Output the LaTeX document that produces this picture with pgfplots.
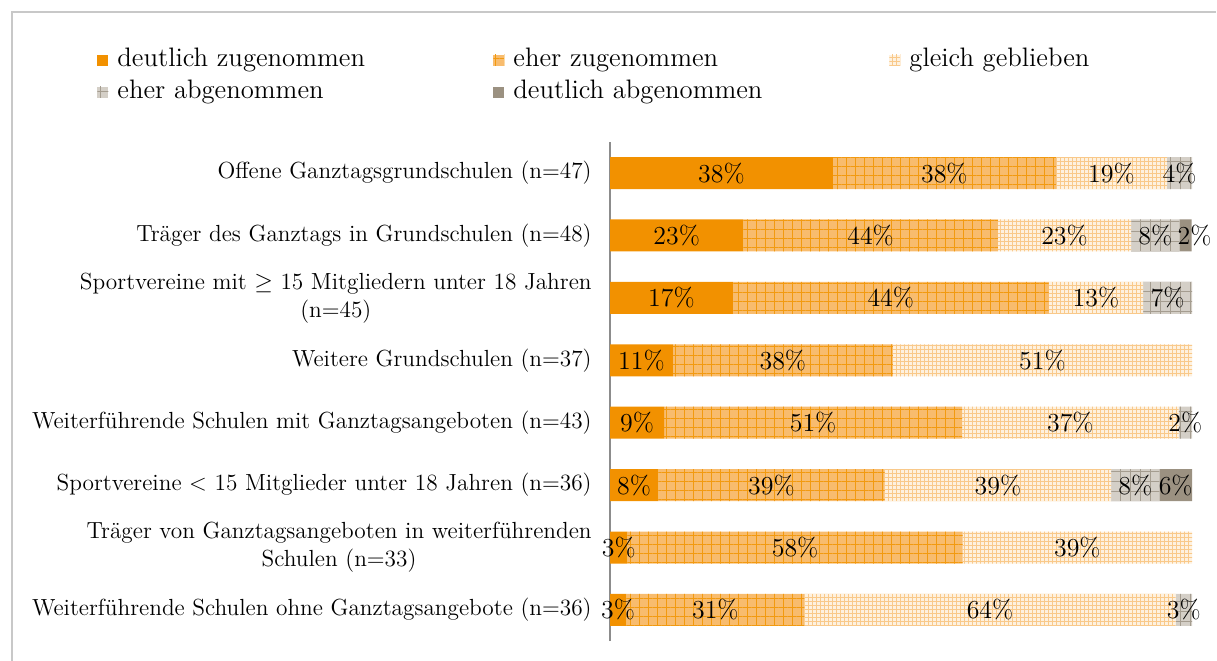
\documentclass[border=0pt]{standalone}
\usepackage{pgfplots}
\pgfplotsset{compat=1.18}
\usepackage{pgfplotstable}
\usetikzlibrary{patterns.meta}
\definecolor{cA}{HTML}{F29100}
\definecolor{cBbase}{HTML}{F8BC6E}
\definecolor{cBline}{HTML}{F29A10}
\definecolor{cCbase}{HTML}{FEF1DF}
\definecolor{cCline}{HTML}{F9C98A}
\definecolor{cDbase}{HTML}{D4CFC7}
\definecolor{cDline}{HTML}{A59D90}
\definecolor{cE}{HTML}{9B9181}
\definecolor{framegray}{HTML}{C8C8C8}
\definecolor{axisgray}{HTML}{8C8C8C}

% shares of the answers shown (per row, in %), and the printed labels
\pgfplotstableread{
y a b c d e la lb lc ld le
7 38.3 38.3 19.1 4.3 0 38\% 38\% 19\% 4\% {}
6 22.9 43.75 22.9 8.3 2.1 23\% 44\% 23\% 8\% \hspace*{9bp}2\%
5 21.1 54.3 16.2 8.4 0 17\% 44\% 13\% 7\% {}
4 10.8 37.8 51.4 0 0 11\% 38\% 51\% {} {}
3 9.3 51.2 37.2 2.3 0 9\% 51\% 37\% 2\% {}
2 8.3 38.9 38.9 8.3 5.6 8\% 39\% 39\% 8\% 6\%
1 3.0 57.6 39.4 0 0 3\% 58\% 39\% {} {}
0 2.8 30.6 63.8 2.8 0 3\% 31\% 64\% 3\% {}
}\data

\pgfplotsset{
  sA/.style={fill=cA, draw=none},
  sB/.style={fill=cBbase, draw=none, postaction={pattern={Hatch[angle=0,distance=4.5bp,line width=0.45bp]}, pattern color=cBline}},
  sC/.style={fill=cCbase, draw=none, postaction={pattern={Hatch[angle=0,distance=2bp,line width=0.35bp]}, pattern color=cCline}},
  sD/.style={fill=cDbase, draw=none, postaction={pattern={Hatch[angle=0,distance=5bp,line width=0.4bp]}, pattern color=cDline}},
  sE/.style={fill=cE, draw=none},
  lab/.style={
    forget plot,
    nodes near coords,
    point meta=explicit symbolic,
    every node near coord/.append style={anchor=center,
      font=\fontsize{13}{15}\selectfont, text=black, inner sep=0pt},
  },
}

\begin{document}
\begin{tikzpicture}
\path[use as bounding box] (0,0) rectangle (608.5bp,-330.5bp);
\draw[framegray, line width=1bp] (6bp,-331bp) -- (6bp,-6bp) -- (608bp,-6bp);
\begin{axis}[
  at={(305bp,-320.6bp)}, anchor=south west,
  scale only axis, width=291bp, height=249.7bp,
  xbar stacked, bar width=16bp,
  xmin=0, xmax=100, ymin=-0.5, ymax=7.5,
  axis x line=none,
  axis y line*=left,
  y axis line style={draw=axisgray, line width=1bp},
  ytick={0,...,7},
  major tick length=0pt,
  yticklabels={
    Weiterführende Schulen ohne Ganztagsangebote (n=36),
    {Träger von Ganztagsangeboten in weiterführenden\\Schulen (n=33)},
    Sportvereine < 15 Mitglieder unter 18 Jahren (n=36),
    Weiterführende Schulen mit Ganztagsangeboten (n=43),
    Weitere Grundschulen (n=37),
    {Sportvereine mit $\geq$ 15 Mitgliedern unter 18 Jahren\\(n=45)},
    Träger des Ganztags in Grundschulen (n=48),
    Offene Ganztagsgrundschulen (n=47)},
  yticklabel style={align=center, inner sep=0pt, xshift=-9bp,
    font=\fontsize{11.7}{14}\selectfont},
  clip=false,
  legend columns=3,
  legend style={draw=none, fill=none, at={(axis description cs:-0.8814,1.1878)}, anchor=north west,
    inner sep=0pt, row sep=4bp,
    font=\fontsize{13.4}{15}\selectfont,
    nodes={inner sep=0pt, text height=9bp, text depth=3bp},
    /tikz/every odd column/.style={column sep=4.5bp},
    /tikz/every even column/.style={column sep=0bp}},
  legend cell align=left,
  legend image code/.code={\path[#1, draw=none] (0bp,-2.75bp) rectangle (5.5bp,2.75bp);},
]
\addplot[sA, lab] table[x=a, y=y, meta=la] {\data};
\addplot[sB, lab] table[x=b, y=y, meta=lb] {\data};
\addplot[sC, lab] table[x=c, y=y, meta=lc] {\data};
\addplot[sD, lab] table[x=d, y=y, meta=ld] {\data};
\addplot[sE, lab] table[x=e, y=y, meta=le] {\data};
\addlegendimage{sA}
\addlegendimage{sB}
\addlegendimage{sC}
\addlegendimage{sD}
\addlegendimage{sE}
\legend{{\makebox[188bp][l]{deutlich zugenommen}},
  {\makebox[188bp][l]{eher zugenommen}},
  {\makebox[188bp][l]{gleich geblieben}},
  {\makebox[188bp][l]{eher abgenommen}},
  {\makebox[188bp][l]{deutlich abgenommen}}}
\end{axis}
\end{tikzpicture}
\end{document}
